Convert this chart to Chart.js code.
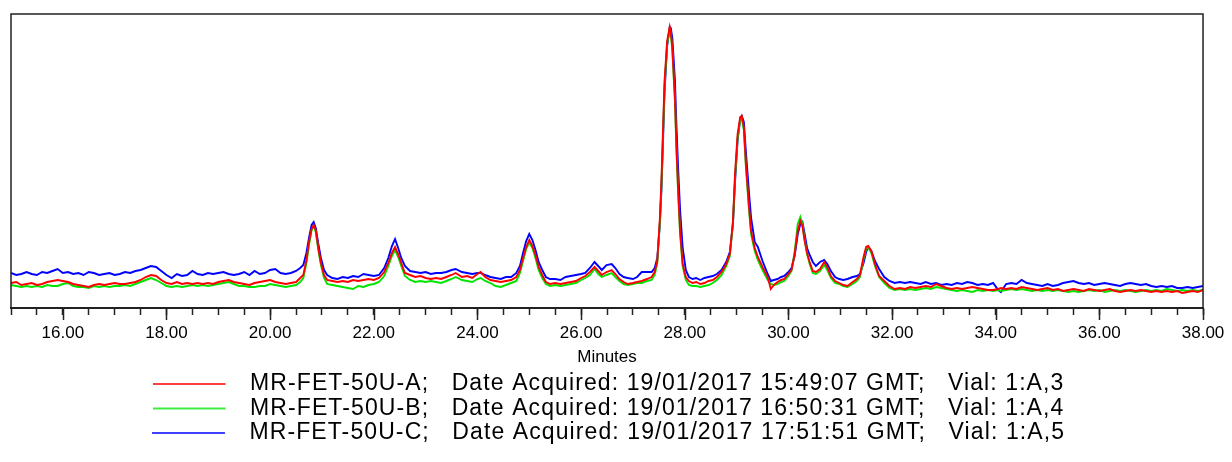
<!DOCTYPE html>
<html><head><meta charset="utf-8">
<script src="https://cdn.jsdelivr.net/npm/chart.js@4.4.1/dist/chart.umd.min.js"></script>
<style>html,body{margin:0;padding:0;background:#fff;}</style>
</head><body>
<canvas id="c" width="1232" height="462"></canvas>
<script>
// ---- data (retention time in minutes, detector signal in arbitrary units) ----
const times = [
15.0,15.1,15.2,15.3,15.4,15.5,15.6,15.7,15.8,15.9,
16.0,16.1,16.2,16.3,16.4,16.5,16.6,16.7,16.8,16.9,
17.0,17.1,17.2,17.3,17.4,17.5,17.6,17.7,17.8,17.9,
18.0,18.1,18.2,18.3,18.4,18.5,18.6,18.7,18.8,18.9,
19.0,19.1,19.2,19.3,19.4,19.5,19.6,19.7,19.8,19.9,
20.0,20.1,20.2,20.3,20.4,20.5,
20.58,20.64,20.70,20.75,20.80,20.84,20.88,20.93,20.98,21.04,
21.10,21.2,21.3,21.4,21.5,21.6,21.7,21.8,21.9,22.0,
22.1,22.2,22.28,22.35,22.41,22.47,22.53,22.6,22.7,22.8,
22.9,23.0,23.1,23.2,23.3,23.4,23.5,23.58,23.7,23.8,
23.9,24.0,24.06,24.15,24.25,24.35,24.45,24.55,24.65,24.75,
24.82,24.88,24.94,25.0,25.06,25.12,25.18,25.25,25.32,25.4,
25.5,25.6,25.7,25.8,25.9,26.0,26.08,26.17,26.26,26.33,
26.4,26.49,26.59,26.66,26.74,26.82,26.9,27.0,27.08,27.17,
27.27,27.36,27.42,27.47,27.52,27.55,27.58,27.61,27.66,27.71,
27.73,27.76,27.81,27.84,27.87,27.91,27.96,28.02,28.08,28.15,
28.22,28.3,28.38,28.46,28.54,28.62,28.71,28.8,28.87,28.93,
28.97,29.02,29.07,29.1,29.14,29.18,29.24,29.28,29.35,29.41,
29.5,29.6,29.66,29.72,29.79,29.86,29.92,30.0,30.06,30.12,
30.18,30.23,30.27,30.31,30.36,30.41,30.47,30.53,30.61,30.69,
30.75,30.82,30.9,30.98,31.06,31.14,31.24,31.32,31.38,31.45,
31.5,31.54,31.6,31.67,31.75,31.85,31.95,32.05,32.15,32.25,
32.35,32.45,32.55,32.65,32.75,32.85,32.95,33.05,33.15,33.25,
33.35,33.45,33.55,33.65,33.75,33.85,33.95,34.05,34.1,34.2,
34.3,34.4,34.5,34.6,34.7,34.8,34.9,35.0,
35.1,35.2,35.3,35.4,35.5,35.6,35.7,35.8,35.9,36.0,
36.1,36.2,36.3,36.4,36.5,36.6,36.7,36.8,36.9,37.0,
37.1,37.2,37.3,37.4,37.5,37.6,37.7,37.8,37.9,38.0
];

// MR-FET-50U-A (red)
const sampleA = [
25,26,23,24,25,23,24,26,27,28, 27,26,24,23,22,21,23,24,23,24,
25,24,24,25,26,28,31,33,32,28, 25,24,26,24,25,24,25,24,25,24,
26,27,28,26,25,24,23,25,26,27, 28,26,25,24,25,26,
30,33,48,66,79,83,78,60,45,33,
28,27,26,27,26,28,27,28,29,28,
30,36,45,55,61,54,45,35,33,31,
32,30,29,30,29,31,33,35,31,32,
30,34,36,31,28,27,26,27,28,31,
38,50,61,68,62,53,41,33,26,24,
25,24,25,26,27,30,32,36,41,37,
33,36,38,34,29,26,24,25,26,27,
29,31,36,47,90,127,177,227,267,281,
276,260,211,161,121,77,44,31,27,25,
26,24,25,27,28,31,36,44,54,87,
134,174,191,192,181,144,101,77,60,51,
41,31,19,23,26,28,29,34,38,54,
77,87,82,68,55,46,37,36,39,46,
41,32,27,25,23,22,26,29,33,51,
61,62,57,44,32,27,22,19,20,19,
21,20,21,22,21,24,22,20,19,20,
19,20,21,20,19,18,18,19,20,19,
20,19,21,20,19,18,19,20,
18,19,17,18,19,18,17,19,18,17,
18,19,17,16,17,18,17,18,17,16,
17,16,17,16,17,15,16,17,16,18
];

// MR-FET-50U-B (green)
const sampleB = [
23,22,21,22,21,22,21,23,22,22, 24,25,22,21,21,20,22,21,22,21,
22,22,23,22,24,26,28,30,28,25, 22,21,22,21,22,23,22,23,22,23,
24,25,26,24,22,22,21,21,22,22, 24,23,22,21,22,23,
26,30,45,63,78,82,76,58,43,30,
24,23,22,21,20,19,22,21,23,24,
26,32,42,52,58,51,42,32,28,26,
27,26,27,26,25,27,29,31,28,27,
26,29,30,27,25,22,21,23,25,27,
35,47,59,66,60,50,38,30,24,22,
23,22,23,24,25,28,30,33,39,34,
31,33,35,31,27,24,23,24,25,25,
27,28,33,45,86,122,172,222,264,279,
275,258,208,158,118,74,42,28,23,22,
22,21,22,23,25,28,33,42,52,85,
130,170,188,190,178,141,98,74,57,48,
38,28,24,23,24,26,27,32,37,56,
84,91,84,70,54,44,35,34,37,43,
38,30,25,24,22,21,24,27,31,49,
59,61,55,42,31,25,20,18,19,18,
19,18,19,20,19,21,20,19,18,17,
18,17,16,18,17,18,17,18,17,18,
19,18,19,18,17,18,17,18,
17,18,17,16,17,16,17,18,17,18,
16,17,18,17,18,17,16,17,18,17,
18,17,19,18,17,18,17,18,17,18
];

// MR-FET-50U-C (blue)
const sampleC = [
35,33,34,36,34,33,36,35,37,39, 35,36,34,35,33,36,35,33,34,35,
33,34,36,35,37,38,40,42,41,37, 33,30,34,32,33,37,34,33,35,34,
35,36,34,33,34,36,33,37,34,35, 38,39,35,34,35,37,
40,43,55,70,83,86,80,64,50,38,
33,30,29,31,30,32,31,34,33,32,
33,40,50,62,69,60,50,42,37,36,
35,36,34,35,35,36,38,39,36,35,
34,35,35,33,31,30,29,31,31,35,
42,55,67,74,68,58,46,38,31,29,
29,28,31,32,33,34,35,40,46,42,
38,43,44,40,34,31,30,29,31,36,
36,36,40,50,84,118,166,216,262,281,
280,270,228,182,142,98,60,38,31,29,
30,28,30,31,32,34,38,46,56,84,
126,168,189,192,186,156,115,90,66,61,
47,34,27,28,29,31,32,36,40,52,
74,84,86,75,60,53,46,42,46,48,
44,37,31,29,28,29,31,32,34,45,
56,61,57,47,39,31,27,25,26,25,
26,25,24,26,24,25,23,24,23,25,
24,26,25,23,24,23,25,18,16,24,
25,24,28,25,24,23,22,24,
22,23,25,26,27,25,24,25,23,24,
25,24,23,22,24,25,24,23,24,22,
21,22,21,22,20,20,21,20,21,22
];

const seriesLabels = [
  'MR-FET-50U-A;   Date Acquired: 19/01/2017 15:49:07 GMT;   Vial: 1:A,3',
  'MR-FET-50U-B;   Date Acquired: 19/01/2017 16:50:31 GMT;   Vial: 1:A,4',
  'MR-FET-50U-C;   Date Acquired: 19/01/2017 17:51:51 GMT;   Vial: 1:A,5'
];
const seriesColors = ['#ff0000', '#00e400', '#0000ff'];
const majorTicks = [16, 18, 20, 22, 24, 26, 28, 30, 32, 34, 36, 38];
const axisTitle = 'Minutes';

// ---- chart ----
if (times.length !== sampleA.length || times.length !== sampleB.length || times.length !== sampleC.length) {
  console.error('length mismatch', times.length, sampleA.length, sampleB.length, sampleC.length);
}
const FONT = "'Liberation Sans', Arial, sans-serif";
const LEGEND_SIZE = 23;
const LEGEND_SPACING = '1.1px';
const toPts = arr => arr.map((v, i) => ({x: times[i], y: v}));
const seriesData = [sampleA, sampleB, sampleC];

function legendSwatch(color) {
  const cv = document.createElement('canvas');
  cv.width = 86; cv.height = 4;
  const g = cv.getContext('2d');
  g.strokeStyle = color; g.lineWidth = 1.6;
  g.beginPath(); g.moveTo(0, 2); g.lineTo(73, 2); g.stroke();
  return cv;
}

// widen the legend lettering slightly, like the original report
const legendSpacingPlugin = {
  id: 'legendSpacing',
  afterInit(chart) {
    const lg = chart.legend;
    if (!lg) return;
    const wrap = fn => function (...args) {
      const c = this.ctx;
      const prev = c.letterSpacing;
      c.letterSpacing = LEGEND_SPACING;
      try { return fn.apply(this, args); } finally { c.letterSpacing = prev || '0px'; }
    };
    lg.fit = wrap(lg.fit);
    lg.draw = wrap(lg.draw);
  }
};

const framePlugin = {
  id: 'frame',
  afterDraw(chart) {
    const {ctx, chartArea: a, scales: {x}} = chart;
    ctx.save();
    ctx.strokeStyle = '#222';
    ctx.lineWidth = 1.5;
    ctx.strokeRect(a.left, a.top, a.right - a.left, a.bottom - a.top);
    // longer tick marks at the labelled (major) positions
    ctx.beginPath();
    majorTicks.forEach(v => {
      const px = Math.round(x.getPixelForValue(v)) + 0.5;
      ctx.moveTo(px, a.bottom);
      ctx.lineTo(px, a.bottom + 12);
    });
    ctx.stroke();
    ctx.restore();
  }
};

new Chart(document.getElementById('c'), {
  type: 'line',
  data: {
    datasets: seriesData.map((d, i) => ({
      label: seriesLabels[i],
      data: toPts(d),
      borderColor: seriesColors[i],
      backgroundColor: seriesColors[i],
      borderWidth: 1.9,
      pointRadius: 0,
      tension: 0,
      fill: false
    }))
  },
  options: {
    responsive: false,
    animation: false,
    devicePixelRatio: 1,
    layout: {padding: {left: 11, right: 26, top: 14, bottom: 7.5}},
    plugins: {
      tooltip: {enabled: false},
      legend: {
        position: 'bottom',
        labels: {
          font: {family: FONT, size: LEGEND_SIZE},
          color: '#000',
          padding: 1.5,
          usePointStyle: true,
          pointStyleWidth: 86,
          generateLabels(chart) {
            return chart.data.datasets.map((ds, i) => ({
              text: ds.label,
              fillStyle: ds.borderColor,
              strokeStyle: ds.borderColor,
              fontColor: '#000',
              lineWidth: 0,
              hidden: false,
              datasetIndex: i,
              pointStyle: legendSwatch(ds.borderColor)
            }));
          }
        }
      }
    },
    scales: {
      x: {
        type: 'linear',
        min: 15, max: 38,
        afterFit(scale) { scale.height = 63; },
        ticks: {
          stepSize: 0.5,
          autoSkip: false,
          maxRotation: 0,
          color: '#000',
          padding: 7.7,
          font: {family: FONT, size: 17},
          callback: v => majorTicks.includes(v) ? v.toFixed(2) : ''
        },
        grid: {display: true, drawOnChartArea: false, drawTicks: true, tickLength: 7, tickColor: '#222', tickWidth: 1.5},
        border: {display: true, color: '#222', width: 2},
        title: {display: true, text: axisTitle, color: '#000', font: {family: FONT, size: 17}, padding: {top: 0, bottom: 3.3}}
      },
      y: {display: false, min: 0, max: 294}
    }
  },
  plugins: [framePlugin, legendSpacingPlugin]
});
</script>
</body></html>
